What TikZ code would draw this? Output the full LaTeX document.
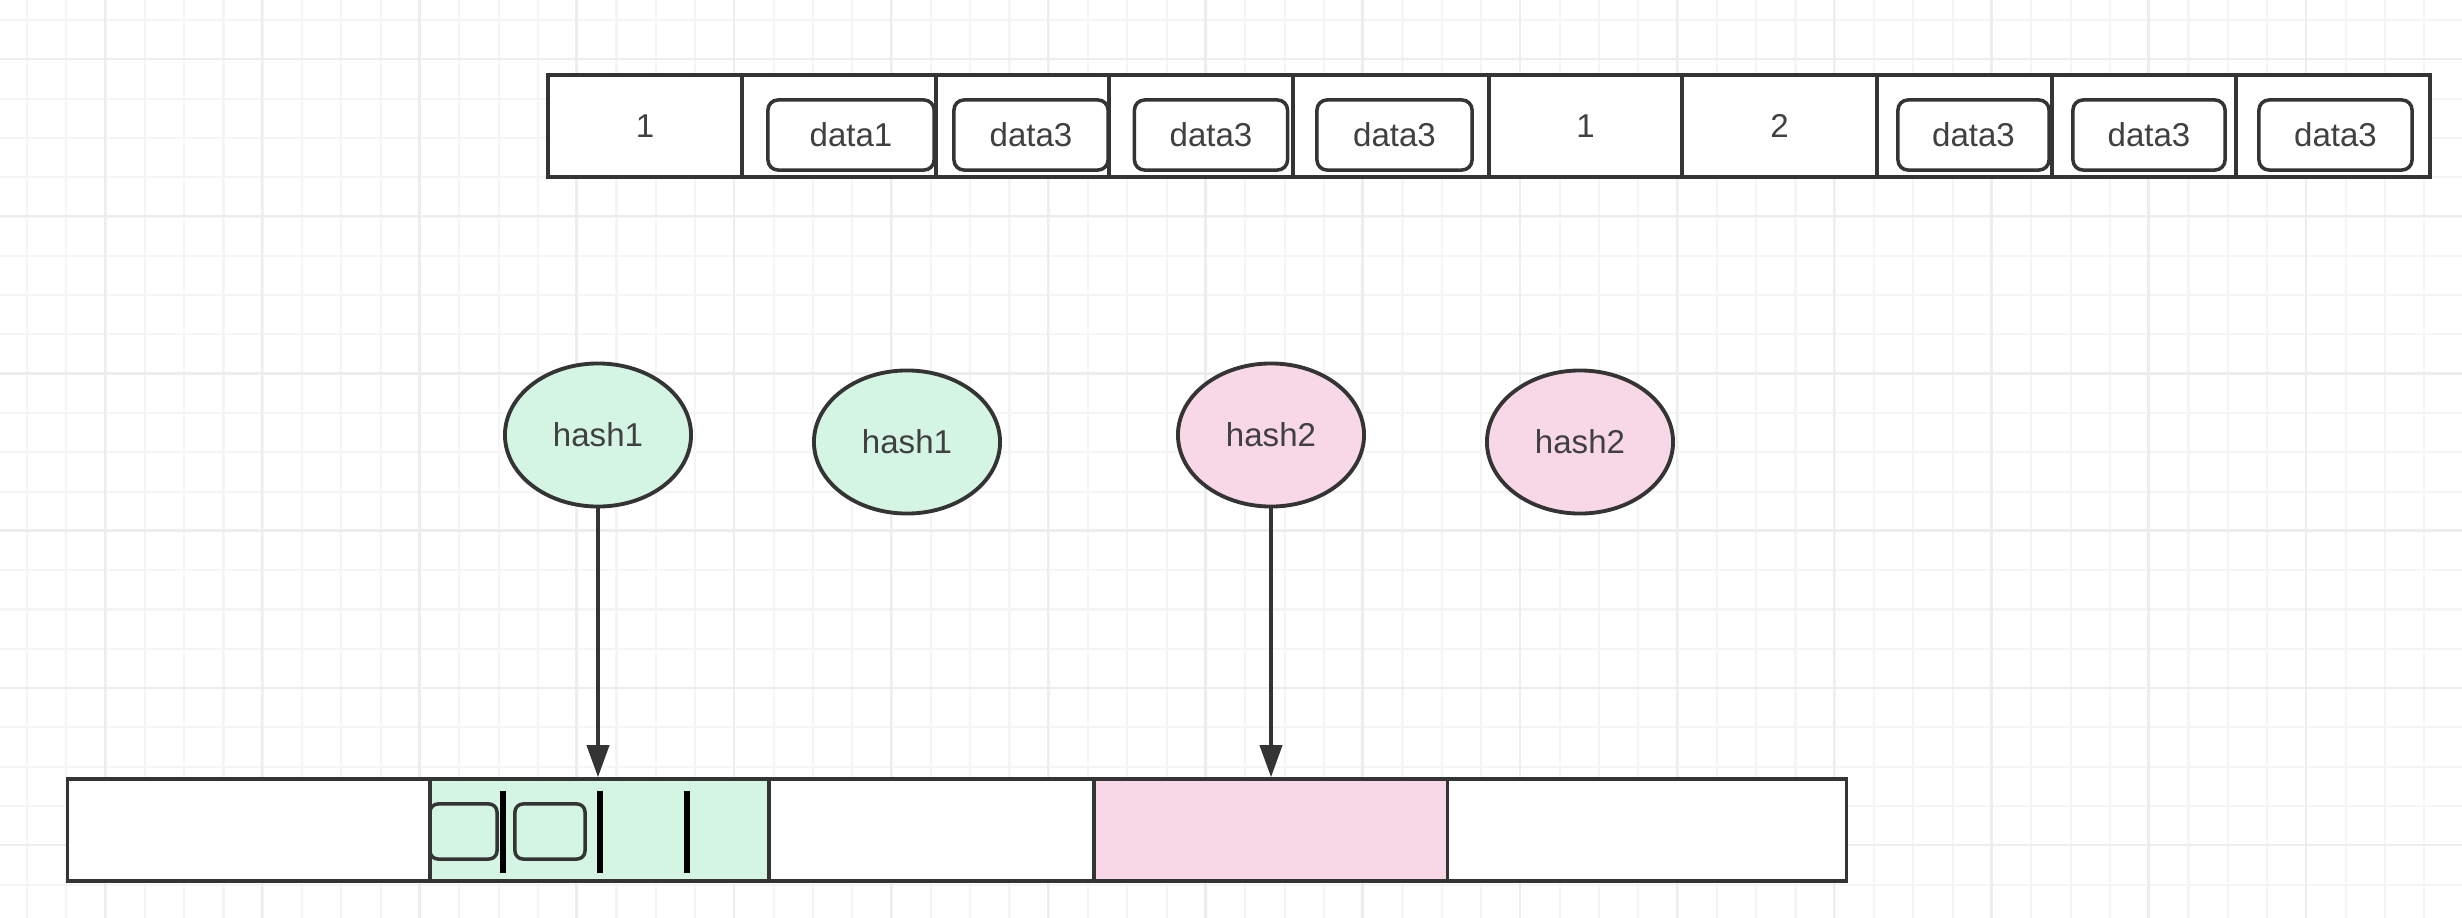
\documentclass[tikz,border=0pt]{standalone}
\usepackage{fontspec}
\setmainfont{Liberation Sans}
\usetikzlibrary{arrows.meta,shapes.geometric}

\definecolor{lineGray}{RGB}{52,52,52}
\definecolor{textGray}{RGB}{64,64,64}
\definecolor{gridMinor}{RGB}{245,245,245}
\definecolor{gridMajor}{RGB}{237,237,237}
\definecolor{hashGreen}{RGB}{213,245,228}
\definecolor{hashPink}{RGB}{248,215,230}

\begin{document}
\begin{tikzpicture}
    [ x=0.01cm, y=-0.01cm,
      cell/.style={draw=lineGray, line width=1pt, fill=white, minimum height=1.02cm, inner sep=0pt, text=textGray},
      dataBox/.style={draw=lineGray, line width=1pt, fill=white, rounded corners=0.1cm, minimum height=0.70cm, inner sep=0pt, text=textGray},
      hashNode/.style={ellipse, draw=lineGray, line width=1.1pt, minimum width=1.86cm, minimum height=1.43cm, inner sep=0pt, text=textGray},
      slot/.style={draw=lineGray, line width=1pt, rounded corners=0.08cm, minimum height=0.55cm, inner sep=0pt},
      divider/.style={black, line width=1.7pt},
      arrow/.style={lineGray, line width=1.1pt, -{Triangle[length=0.32cm, width=0.22cm]}},
      minorGrid/.style={gridMinor, line width=0.6pt},
      majorGrid/.style={gridMajor, line width=0.7pt}]

  \fontsize{9.4}{11}\selectfont%
  \useasboundingbox[fill=white] (0,0) rectangle (2462,918);

%%%%%%%%%%%%%%%%%%%%%%%%%%%%%%%%%%%%%%%%%%%%%%%%%%%%%%%%%%%%%%%%%%%%%%%%%%%%%%%%%%%%%%%%%%%%%%%%%%%%%%%%%%
%draw background grid
	  \foreach \i in {0,...,62}
	    \draw[minorGrid] (27+39.3*\i,0) -- (27+39.3*\i,918);
	  \foreach \j in {0,...,23}
	    \draw[minorGrid] (0,20+39.3*\j) -- (2462,20+39.3*\j);
	  \foreach \i in {0,...,15}
	    \draw[majorGrid] (105+157.2*\i,0) -- (105+157.2*\i,918);
	  \foreach \j in {0,...,5}
	    \draw[majorGrid] (0,59+157.2*\j) -- (2462,59+157.2*\j);

%%%%%%%%%%%%%%%%%%%%%%%%%%%%%%%%%%%%%%%%%%%%%%%%%%%%%%%%%%%%%%%%%%%%%%%%%%%%%%%%%%%%%%%%%%%%%%%%%%%%%%%%%%
%draw top record row
	  \node[cell, minimum width=1.94cm] (top1)  at (645,126)    {1};
	  \node[cell, minimum width=1.94cm] (top2)  at (839,126)    {};
	  \node[cell, minimum width=1.73cm] (top3)  at (1022.5,126) {};
	  \node[cell, minimum width=1.84cm] (top4)  at (1201,126)   {};
	  \node[cell, minimum width=1.96cm] (top5)  at (1391,126)   {};
	  \node[cell, minimum width=1.93cm] (top6)  at (1585.5,126) {1};
	  \node[cell, minimum width=1.95cm] (top7)  at (1779.5,126) {2};
	  \node[cell, minimum width=1.75cm] (top8)  at (1964.5,126) {};
	  \node[cell, minimum width=1.84cm] (top9)  at (2144,126)   {};
	  \node[cell, minimum width=1.94cm] (top10) at (2333,126)   {};

	  % data boxes inside the cells
	  \node[dataBox, minimum width=1.66cm] (dataA) at (851,135)    {data1};
	  \node[dataBox, minimum width=1.54cm] (dataB) at (1031,135)   {data3};
	  \node[dataBox, minimum width=1.53cm] (dataC) at (1211,135)   {data3};
	  \node[dataBox, minimum width=1.55cm] (dataD) at (1394.5,135) {data3};
	  \node[dataBox, minimum width=1.51cm] (dataE) at (1973.5,135) {data3};
	  \node[dataBox, minimum width=1.52cm] (dataF) at (2149,135)   {data3};
	  \node[dataBox, minimum width=1.53cm] (dataG) at (2335.5,135) {data3};

%%%%%%%%%%%%%%%%%%%%%%%%%%%%%%%%%%%%%%%%%%%%%%%%%%%%%%%%%%%%%%%%%%%%%%%%%%%%%%%%%%%%%%%%%%%%%%%%%%%%%%%%%%
%draw hash values
	  \node[hashNode, fill=hashGreen] (hashOneA) at (598,435)  {hash1};
	  \node[hashNode, fill=hashGreen] (hashOneB) at (907,442)  {hash1};
	  \node[hashNode, fill=hashPink]  (hashTwoA) at (1271,435) {hash2};
	  \node[hashNode, fill=hashPink]  (hashTwoB) at (1580,442) {hash2};

%%%%%%%%%%%%%%%%%%%%%%%%%%%%%%%%%%%%%%%%%%%%%%%%%%%%%%%%%%%%%%%%%%%%%%%%%%%%%%%%%%%%%%%%%%%%%%%%%%%%%%%%%%
%draw bucket bar
	  \node[cell, minimum width=3.625cm]                 (bucket1) at (249,830)    {};
	  \node[cell, minimum width=3.39cm, fill=hashGreen]  (bucket2) at (599.5,830)  {};
	  \node[cell, minimum width=3.25cm]                  (bucket3) at (931.5,830)  {};
	  \node[cell, minimum width=3.54cm, fill=hashPink]   (bucket4) at (1271,830)   {};
	  \node[cell, minimum width=3.985cm]                 (bucket5) at (1647,830)   {};

	  % slots in the green bucket
	  \node[slot, minimum width=0.67cm] (slot1) at (463.5,831.5) {};
	  \node[slot, minimum width=0.70cm] (slot2) at (550,831.5)   {};
	  \draw[divider] (503,791) -- (503,873);
	  \draw[divider] (600,791) -- (600,873);
	  \draw[divider] (687,791) -- (687,873);

	  % hash to bucket
	  \draw[arrow] (hashOneA.south) -- (hashOneA.south |- bucket2.north);
	  \draw[arrow] (hashTwoA.south) -- (bucket4.north);

\end{tikzpicture}
\end{document}
